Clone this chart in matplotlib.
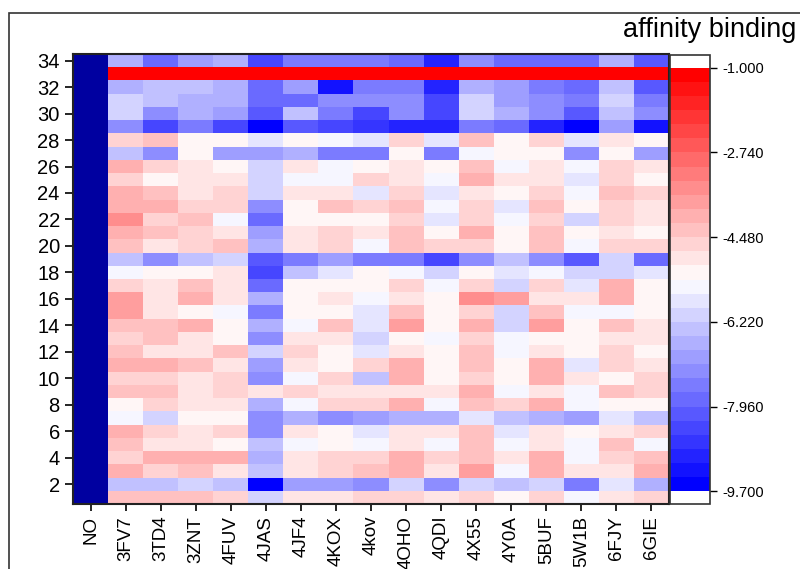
import numpy as np
import matplotlib
matplotlib.use('Agg')
import matplotlib.pyplot as plt
from matplotlib.patches import Rectangle

plt.rcParams['font.family'] = ['Liberation Sans', 'DejaVu Sans']

# structures on the x axis (NO has no values -> drawn as "bad" colour)
structures = ['NO', '3FV7', '3TD4', '3ZNT', '4FUV', '4JAS', '4JF4', '4KOX', '4kov',
              '4OHO', '4QDI', '4X55', '4Y0A', '5BUF', '5W1B', '6FJY', '6GIE']
rows = list(range(1, 35))

# affinity values, row 1 (bottom) -> row 34 (top)
v_3FV7 = [-4.3, -6.45, -4.1, -4.6, -4.3, -4.1, -5.55, -5.15, -4.3, -4.6, -4.1, -4.3, -4.6, -4.3, -3.85, -3.85, -4.6,
          -5.55, -6.45, -4.3, -4.1, -3.5, -4.1, -4.1, -4.6, -4.15, -6.45, -4.6, -7.3, -6.1, -6.1, -6.7, -1.0, -6.7]
v_3TD4 = [-4.3, -6.45, -4.6, -4.1, -4.85, -4.6, -6.1, -4.6, -4.3, -4.6, -4.1, -4.85, -4.3, -4.3, -4.85, -4.85, -4.85,
          -5.15, -7.3, -4.9, -4.3, -4.6, -4.1, -4.3, -5.15, -4.6, -7.3, -4.4, -8.3, -7.3, -6.4, -6.4, -1.0, -7.8]
v_3ZNT = [-4.3, -6.1, -4.3, -4.1, -4.85, -4.85, -5.15, -4.85, -4.85, -4.85, -4.3, -4.85, -4.85, -4.1, -5.15, -4.1, -4.3,
          -5.15, -6.45, -4.6, -4.6, -4.4, -4.6, -4.85, -4.85, -4.85, -5.15, -5.15, -7.6, -6.7, -6.7, -6.4, -1.0, -7.0]
v_4FUV = [-4.6, -6.45, -4.85, -4.1, -5.15, -4.6, -5.15, -4.85, -4.6, -4.6, -4.85, -4.3, -5.15, -5.15, -5.55, -4.85, -4.85,
          -4.85, -6.1, -4.4, -4.85, -5.55, -4.6, -4.6, -4.85, -5.15, -7.0, -5.15, -8.5, -7.0, -6.7, -6.7, -1.0, -6.7]
v_4JAS = [-6.1, -9.6, -6.4, -6.7, -6.45, -7.1, -7.3, -6.7, -4.85, -7.3, -7.0, -6.1, -7.3, -6.7, -7.6, -6.7, -7.7,
          -8.3, -8.2, -6.7, -7.0, -7.8, -7.3, -6.1, -6.1, -6.1, -7.0, -5.85, -9.6, -8.2, -7.8, -7.8, -1.0, -8.5]
v_4JF4 = [-4.85, -7.0, -4.85, -4.85, -5.55, -4.85, -6.7, -5.55, -4.6, -5.55, -4.85, -4.6, -4.85, -5.55, -5.15, -5.15, -5.15,
          -6.4, -7.6, -4.85, -4.85, -5.15, -5.15, -4.85, -5.55, -4.85, -6.7, -5.15, -8.2, -6.4, -7.8, -7.0, -1.0, -7.6]
v_4KOX = [-4.85, -7.0, -4.6, -4.6, -5.15, -5.15, -7.3, -4.6, -4.85, -4.6, -5.15, -5.15, -4.85, -4.3, -5.15, -4.85, -5.15,
          -5.85, -7.0, -4.6, -4.6, -5.15, -4.3, -4.85, -5.55, -5.55, -7.6, -5.55, -8.5, -7.6, -7.3, -9.4, -1.0, -7.6]
v_4kov = [-4.6, -7.3, -4.3, -4.6, -5.55, -5.85, -7.0, -4.6, -4.85, -6.45, -4.6, -5.85, -6.1, -5.85, -5.85, -5.55, -5.15,
          -5.15, -7.6, -5.55, -4.85, -5.15, -4.6, -5.85, -4.6, -5.15, -7.6, -5.85, -8.8, -8.5, -7.3, -7.6, -1.0, -7.6]
v_4OHO = [-4.6, -6.1, -4.1, -4.1, -4.85, -4.85, -6.7, -4.1, -4.85, -4.1, -4.1, -4.85, -5.15, -3.85, -4.3, -4.85, -4.6,
          -5.55, -7.6, -4.3, -4.3, -4.6, -4.3, -4.6, -4.85, -4.85, -5.15, -4.6, -8.9, -7.3, -7.3, -7.6, -1.0, -7.8]
v_4QDI = [-4.85, -7.3, -4.85, -4.6, -5.55, -4.85, -6.7, -5.55, -4.85, -5.15, -5.15, -5.15, -5.55, -5.15, -5.15, -5.15, -5.55,
          -6.1, -8.3, -4.6, -5.15, -5.85, -5.55, -5.85, -5.55, -5.15, -7.6, -5.85, -9.1, -8.3, -8.3, -8.9, -1.0, -8.9]
v_4X55 = [-4.6, -6.1, -3.85, -4.3, -4.3, -4.3, -5.85, -4.2, -4.1, -4.6, -4.3, -4.3, -4.6, -3.95, -4.6, -3.5, -4.6,
          -5.15, -7.3, -4.6, -4.1, -4.6, -4.6, -4.85, -4.1, -4.3, -5.55, -4.3, -7.6, -6.1, -6.1, -6.7, -1.0, -7.3]
v_4Y0A = [-5.15, -6.4, -5.55, -4.85, -5.55, -5.85, -6.4, -4.6, -5.55, -5.15, -5.15, -5.55, -5.55, -6.1, -6.1, -3.85, -6.1,
          -5.85, -6.4, -5.15, -5.15, -5.55, -5.85, -5.15, -4.85, -5.55, -5.15, -5.15, -7.8, -6.7, -7.0, -7.0, -1.0, -7.8]
v_5BUF = [-4.6, -6.1, -4.1, -4.1, -4.85, -4.85, -6.7, -4.1, -4.85, -4.1, -4.1, -4.85, -5.15, -3.85, -4.3, -4.85, -4.6,
          -5.55, -7.3, -4.3, -4.3, -4.6, -4.3, -4.6, -4.85, -4.85, -5.15, -4.6, -8.9, -7.3, -7.3, -7.6, -1.0, -7.8]
v_5W1B = [-5.55, -7.6, -4.85, -5.55, -5.55, -5.15, -7.0, -5.55, -5.55, -4.85, -5.85, -5.15, -5.15, -5.15, -5.55, -4.85, -5.85,
          -6.1, -8.0, -5.55, -5.15, -6.1, -5.15, -5.55, -5.85, -5.55, -7.3, -5.85, -9.6, -8.0, -7.6, -7.8, -1.0, -7.8]
v_6FJY = [-4.85, -5.85, -4.85, -4.6, -4.3, -4.85, -5.85, -5.15, -4.3, -5.15, -4.6, -4.6, -4.85, -4.3, -5.55, -4.1, -4.15,
          -6.1, -6.1, -4.6, -4.85, -4.6, -4.6, -4.3, -4.6, -4.6, -5.15, -4.85, -7.0, -6.4, -6.1, -6.4, -1.0, -6.7]
v_6GIE = [-4.6, -6.7, -4.1, -4.3, -5.55, -4.6, -6.4, -5.15, -4.6, -4.6, -4.85, -5.15, -4.85, -4.85, -5.15, -5.15, -5.15,
          -5.85, -7.8, -4.6, -5.15, -4.85, -4.85, -4.6, -5.15, -4.85, -7.0, -5.15, -9.4, -7.3, -7.6, -8.2, -1.0, -8.2]

cbar_ticks = [-1.0, -2.74, -4.48, -6.22, -7.96, -9.7]
vmin, vmax = -9.7, -1.0

cols = [v_3FV7, v_3TD4, v_3ZNT, v_4FUV, v_4JAS, v_4JF4, v_4KOX, v_4kov,
        v_4OHO, v_4QDI, v_4X55, v_4Y0A, v_5BUF, v_5W1B, v_6FJY, v_6GIE]
Z = np.full((len(rows), len(structures)), np.nan)
Z[:, 1:] = np.array(cols).T
Z = np.ma.masked_invalid(Z)

cmap = plt.get_cmap('bwr').resampled(30)
cmap.set_bad('#0000a0')
cmap.set_over('white')
cmap.set_under('white')

fig = plt.figure(figsize=(8, 5.69), dpi=100)
ax = fig.add_axes([73 / 800, 1 - 504 / 569, 596 / 800, 450 / 569])
cax = fig.add_axes([670 / 800, 1 - 504 / 569, 40 / 800, 449 / 569])

x_edges = np.arange(len(structures) + 1)
y_edges = np.arange(len(rows) + 1) + 0.5
mesh = ax.pcolormesh(x_edges, y_edges, Z, cmap=cmap, vmin=vmin, vmax=vmax)

ax.set_xlim(0, len(structures))
ax.set_ylim(0.5, len(rows) + 0.5)
ax.set_xticks(np.arange(len(structures)) + 0.5)
ax.set_xticklabels(structures, rotation=90, fontsize=13.5)
ax.set_yticks(range(2, 35, 2))
ax.tick_params(axis='y', labelsize=14.5, length=6, width=1.2, direction='out')
ax.tick_params(axis='x', length=5, width=1.2, direction='out')
for s in ax.spines.values():
    s.set_linewidth(1.5)
    s.set_color('#222222')

cb = fig.colorbar(mesh, cax=cax, extend='both', extendrect=True, extendfrac=0.03, ticks=cbar_ticks)
cb.ax.set_yticklabels(['%.3f' % t for t in cbar_ticks])
cb.ax.tick_params(labelsize=10.5, length=5, width=1, direction='out', pad=4)
cb.outline.set_linewidth(1.2)
cb.outline.set_edgecolor('#333333')

fig.text(796 / 800, 1 - 30 / 569, 'affinity binding', ha='right', va='center', fontsize=19.5)

# page frame around the figure
frame = Rectangle((9 / 800, -0.5), 2, 1 - 13 / 569 + 0.5, transform=fig.transFigure,
                  fill=False, lw=1.2, edgecolor='#333333')
fig.patches.append(frame)

fig.savefig('out.png', dpi=100)
